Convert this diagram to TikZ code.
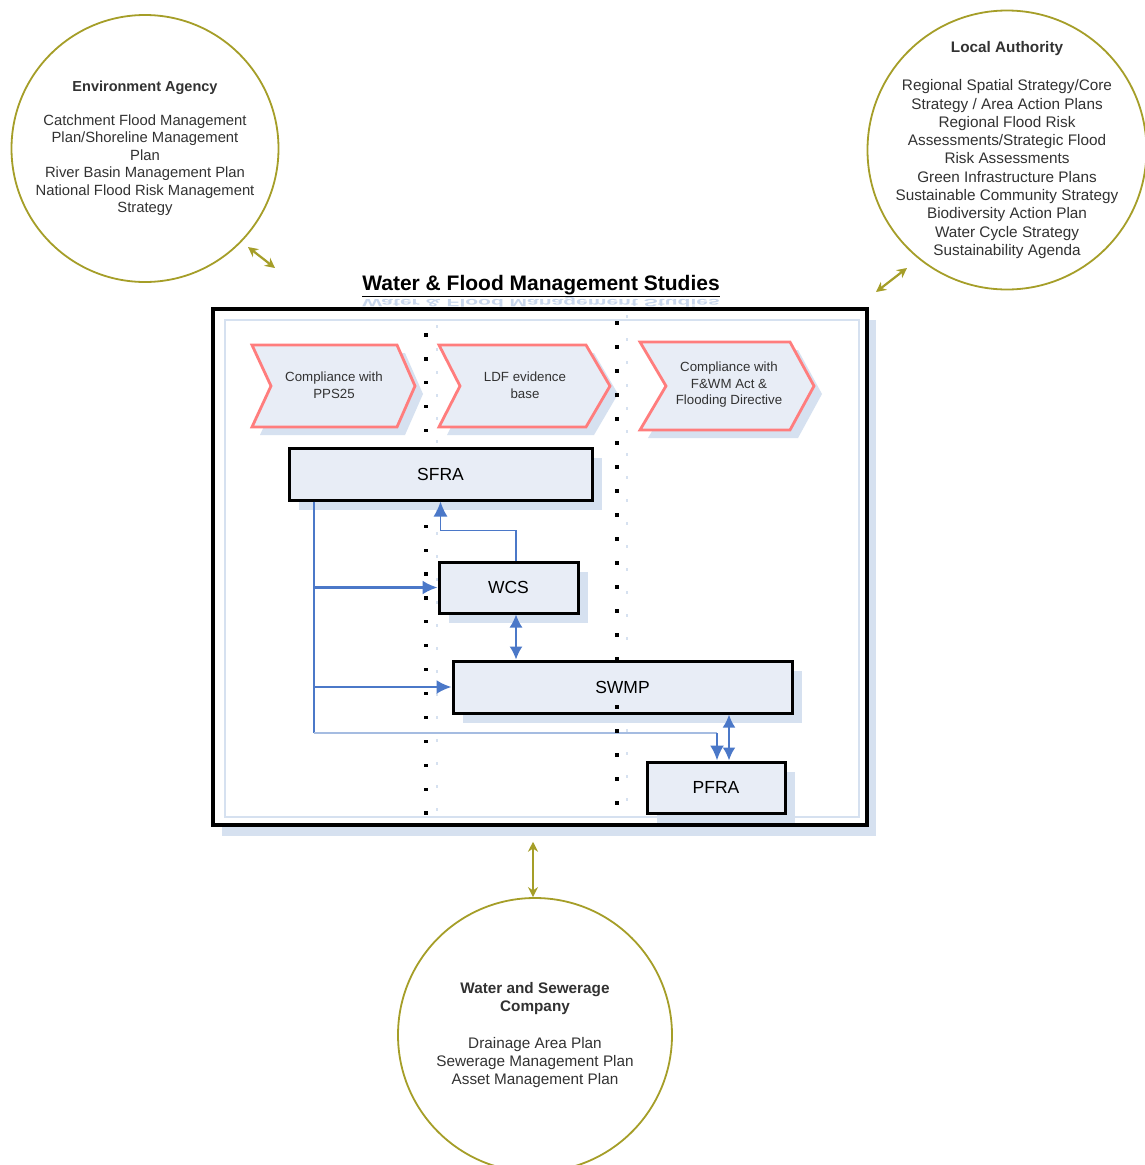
\documentclass[tikz,border=0pt]{standalone}
\usepackage{fontspec}
\setmainfont{Liberation Sans}
\usetikzlibrary{arrows.meta,calc,shadows}

\definecolor{olivec}{RGB}{165,158,40}
\definecolor{chevred}{RGB}{255,125,125}
\definecolor{boxfill}{RGB}{232,237,246}
\definecolor{shadowc}{RGB}{214,225,240}
\definecolor{reflc}{RGB}{200,214,236}
\definecolor{linkblue}{RGB}{75,120,200}
\definecolor{lightlink}{RGB}{165,188,225}
\definecolor{txt}{RGB}{50,50,50}

\newcommand\chevpath[6]{(#1,#5) -- (#3,#5) -- (#4,{(#5+#6)/2}) -- (#3,#6) -- (#1,#6) -- (#2,{(#5+#6)/2}) -- cycle}

\begin{document}
\begin{tikzpicture}[x=1pt,y=-1pt,
  agency/.style={circle,draw=olivec,line width=1.8pt,minimum size=#1,inner sep=0pt},
  circtext/.style={align=center,text=txt,inner sep=0pt},
  oarrow/.style={draw=olivec,line width=2.2pt,{Stealth[length=10pt,width=10pt]}-{Stealth[length=10pt,width=10pt]}},
  chevtext/.style={align=center,text=txt,font=\fontsize{13.3}{16.5}\selectfont,inner sep=0pt},
  chevst/.style={draw=chevred,line width=2.8pt,fill=boxfill,line join=miter},
  boxst/.style={draw=black,line width=3pt,fill=boxfill,inner sep=0pt,
    font=\fontsize{17.5}{20}\selectfont,
    drop shadow={shadow xshift=10pt,shadow yshift=-10pt,fill=shadowc,opacity=1}},
  blueline/.style={draw=linkblue,line width=2.4pt},
  thinblue/.style={draw=linkblue,line width=1.6pt},
  tip/.style={-{Latex[length=15pt,width=14pt]}},
  tips/.style={{Latex[length=13pt,width=13pt]}-{Latex[length=13pt,width=13pt]}}
]
\fill[white] (0,0) rectangle (1144,1165);
\useasboundingbox (0,0) rectangle (1144,1165);

% ---- outer agency circles ----
\node[agency=267pt] (ea) at (145,148.5) {};
\node[circtext,font=\fontsize{14.8}{17.5}\selectfont] (eatext) at (ea.center)
  {{\bfseries\fontsize{14.5}{17.5}\selectfont Environment Agency}\\[16pt]
   Catchment Flood Management\\Plan/Shoreline Management\\Plan\\
   River Basin Management Plan\\National Flood Risk Management\\Strategy};

\node[agency=279pt] (la) at (1007,150) {};
\node[circtext,font=\fontsize{15.3}{18.3}\selectfont] (latext) at (la.center)
  {{\bfseries Local Authority}\\[20pt]
   Regional Spatial Strategy/Core\\Strategy / Area Action Plans\\
   Regional Flood Risk\\Assessments/Strategic Flood\\Risk Assessments\\
   Green Infrastructure Plans\\Sustainable Community Strategy\\
   Biodiversity Action Plan\\Water Cycle Strategy\\Sustainability Agenda};

\node[agency=274pt] (ws) at (535,1035) {};
\node[circtext,font=\fontsize{15.3}{18}\selectfont] (wstext) at (ws.center)
  {{\bfseries Water and Sewerage}\\{\bfseries Company}\\[19pt]
   Drainage Area Plan\\Sewerage Management Plan\\Asset Management Plan};

% ---- title ----
\node[text=reflc,transform shape,yscale=-0.5,font=\bfseries\fontsize{21}{25}\selectfont] (titlerefl) at (541,302) {Water \& Flood Management Studies};
\node[font=\bfseries\fontsize{21}{25}\selectfont,inner sep=1pt] (title) at (541,286) {\underline{Water \& Flood Management Studies}};

% ---- main frame ----
\node[draw=black,line width=3.5pt,fill=white,minimum width=654pt,minimum height=516pt,inner sep=0pt,
  drop shadow={shadow xshift=9pt,shadow yshift=-11pt,fill=shadowc,opacity=1}] (frame) at (540,567) {};
\draw[shadowc,line width=1.5pt] (225,320) rectangle (859,817);

% ---- connectors to agencies ----
\coordinate (eaA) at (248,247);
\coordinate (eaB) at (275,268);
\draw[oarrow] (eaA) -- (eaB);
\coordinate (laA) at (876,292);
\coordinate (laB) at (907,268);
\draw[oarrow] (laA) -- (laB);
\coordinate (wsA) at ($(frame.south)+(-7,15)$);
\draw[oarrow] (wsA) -- (wsA |- ws.north);

% ---- faint and dotted column separators ----
\draw[shadowc,line width=1.5pt,dash pattern=on 3pt off 20pt] (437,325) -- (437,820);
\draw[shadowc,line width=1.5pt,dash pattern=on 3pt off 20pt] (627,315) -- (627,812);
\foreach \i in {0,...,20} {\fill ({426-1.6},{335+23.9*\i-1.6}) rectangle ++(3.2,3.2);}

% ---- chevrons ----
\fill[shadowc,shift={(8,8)}] \chevpath{252}{271}{397}{415}{345}{427};
\draw[chevst] \chevpath{252}{271}{397}{415}{345}{427};
\fill[shadowc,shift={(8,8)}] \chevpath{439}{460}{586}{610}{345}{427};
\draw[chevst] \chevpath{439}{460}{586}{610}{345}{427};
\fill[shadowc,shift={(8,8)}] \chevpath{640}{666}{790}{814}{342}{430};
\draw[chevst] \chevpath{640}{666}{790}{814}{342}{430};
\node[chevtext] (c1) at (334,385) {Compliance with\\PPS25};
\node[chevtext] (c2) at (525,385) {LDF evidence\\base};
\node[chevtext] (c3) at (729,385) {Compliance with\\F\&WM Act \&\\Flooding Directive};

% ---- study boxes ----
\node[boxst,minimum width=303pt,minimum height=52pt] (sfra) at (440.5,474) {SFRA};
\node[boxst,minimum width=139pt,minimum height=51pt] (wcs) at (508.5,587.5) {WCS};
\node[boxst,minimum width=339pt,minimum height=52pt] (swmp) at (622.5,687) {SWMP};
\node[boxst,minimum width=138pt,minimum height=51pt] (pfra) at (716,787.5) {PFRA};

% ---- blue links ----
\coordinate (tr0) at ($(sfra.south west)+(26.5,0)$);
\coordinate (tr1) at ($(tr0)+(0,231.5)$);
\coordinate (p1) at ($(pfra.north)+(1,0)$);
\coordinate (p2) at ($(pfra.north)+(13,0)$);
\coordinate (w1) at ($(wcs.north)+(7.5,0)$);
\draw[blueline] (tr0) -- (tr1);
\draw[blueline,tip] (tr0 |- wcs.west) -- (wcs.west);
\draw[blueline,tip] (tr0 |- swmp.west) -- (swmp.west);
\draw[lightlink,line width=1.6pt] (tr1) -- (tr1 -| p1);
\draw[blueline,tip] (tr1 -| p1) -- (p1);
\draw[blueline,tips] (p2 |- swmp.south) -- (p2);
\draw[thinblue,tip] (w1) -- ++(0,-30) -| (sfra.south);
\draw[thinblue,tips] (w1 |- wcs.south) -- (w1 |- swmp.north);

% ---- second dotted column, drawn over boxes ----
\foreach \i in {0,...,14,16,17,18,19,20} {\fill ({617-1.6},{323+24*\i-1.6}) rectangle ++(3.2,3.2);}
\end{tikzpicture}
\end{document}
